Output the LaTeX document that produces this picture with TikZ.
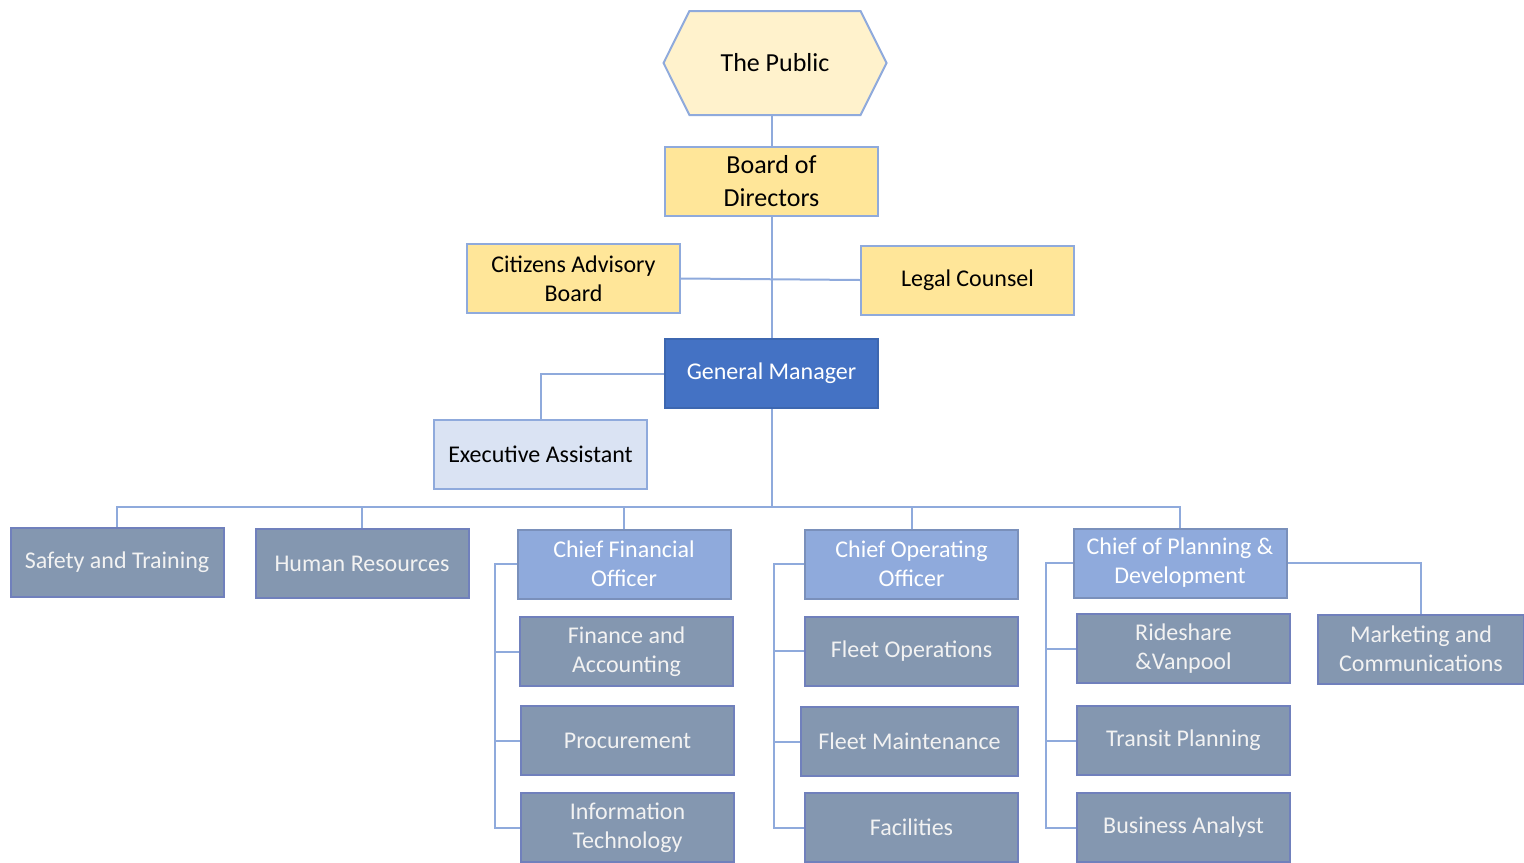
\documentclass[tikz,border=0pt]{standalone}
\usepackage{fontspec}
\setmainfont{Carlito}
\usetikzlibrary{shapes.symbols}
\definecolor{linkblue}{HTML}{8FAADC}
\definecolor{cream}{HTML}{FFF2CC}
\definecolor{goldfill}{HTML}{FFE699}
\definecolor{gmblue}{HTML}{4472C4}
\definecolor{paleblue}{HTML}{DAE3F3}
\definecolor{chiefblue}{HTML}{8FAADC}
\definecolor{slate}{HTML}{8497B0}
\tikzset{
  box/.style={
    rectangle,
    draw=linkblue,
    line width=1pt,
    minimum width=106.5pt,
    minimum height=34.5pt,
    inner sep=2pt,
    align=center,
    font=\fontsize{12}{14.5}\selectfont
  },
  hexbox/.style={box, signal, signal to=west and east, signal pointer angle=127,
    fill=cream, minimum width=111.5pt, minimum height=52pt},
  gold/.style={box, fill=goldfill},
  gm/.style={box, fill=gmblue, draw=gmblue!90!black, text=white},
  assist/.style={box, fill=paleblue},
  chief/.style={box, fill=chiefblue, draw=chiefblue!85!black, text=white},
  dept/.style={box, fill=slate, draw=slate!85!blue, text=white!95!black},
  link/.style={draw=linkblue, line width=1pt}
}

\begin{document}
\begin{tikzpicture}[x=0.5pt, y=-0.5pt]
    \useasboundingbox (0,0) rectangle (1524,862);
    \node[hexbox, font=\fontsize{13}{16.5}\selectfont] (pub) at (775,63) {The Public};
    \node[gold, font=\fontsize{13}{16.5}\selectfont] (bod) at (771.5,181.5) {Board of\\Directors};
    \node[gold] (cab) at (573.5,278.5) {Citizens Advisory\\Board};
    \node[gold] (lc) at (967.5,280) {Legal Counsel};
    \node[gm] (gm) at (771.5,373.5) {General Manager};
    \node[assist] (ea) at (540.5,454.5) {Executive Assistant};
    \coordinate (bus) at (771.5,507);
    \node[dept] (st) at (117,562.5) {Safety and Training};
    \node[dept] (hr) at (362,563.5) {Human Resources};
    \node[chief] (cfo) at (624,564) {Chief Financial\\Officer};
    \node[chief] (coo) at (911.5,564) {Chief Operating\\Officer};
    \node[chief] (cpd) at (1180,563) {Chief of Planning \&\\Development};
    \node[dept] (fa) at (626.5,651.5) {Finance and\\Accounting};
    \node[dept] (pr) at (627.5,740.5) {Procurement};
    \node[dept] (it) at (627.5,827.5) {Information\\Technology};
    \node[dept] (fo) at (911.5,651) {Fleet Operations};
    \node[dept, minimum width=108.5pt] (fm) at (909.5,741.5) {Fleet Maintenance};
    \node[dept] (fac) at (911.5,827.5) {Facilities};
    \node[dept] (rv) at (1183.5,648.5) {Rideshare\\\&Vanpool};
    \node[dept] (tp) at (1183.5,740.5) {Transit Planning};
    \node[dept] (ba) at (1183.5,827.5) {Business Analyst};
    \node[dept, minimum width=103pt] (mc) at (1421,649) {Marketing and\\Communications};
    \draw[link] (bod.north) -- (bod.north |- pub.south);
    \draw[link] (bod) -- (gm);
    \draw[link] (cab.east) -- (lc.west);
    \draw[link] (gm.west) -| (ea.north);
    \draw[link] (gm.south) -- (bus);
    \foreach \n in {st,hr,cfo,coo,cpd}
      \draw[link] (bus) -| (\n.north);
    \foreach \n in {fa,pr,it}
      \draw[link] (cfo.west) -- ++(-22,0) |- (\n.west);
    \foreach \n in {fo,fm,fac}
      \draw[link] (coo.west) -- ++(-30,0) |- (\n.west);
    \foreach \n in {rv,tp,ba}
      \draw[link] (cpd.west) -- ++(-27,0) |- (\n.west);
    \draw[link] (cpd.east) -| (mc.north);
\end{tikzpicture}
\end{document}
